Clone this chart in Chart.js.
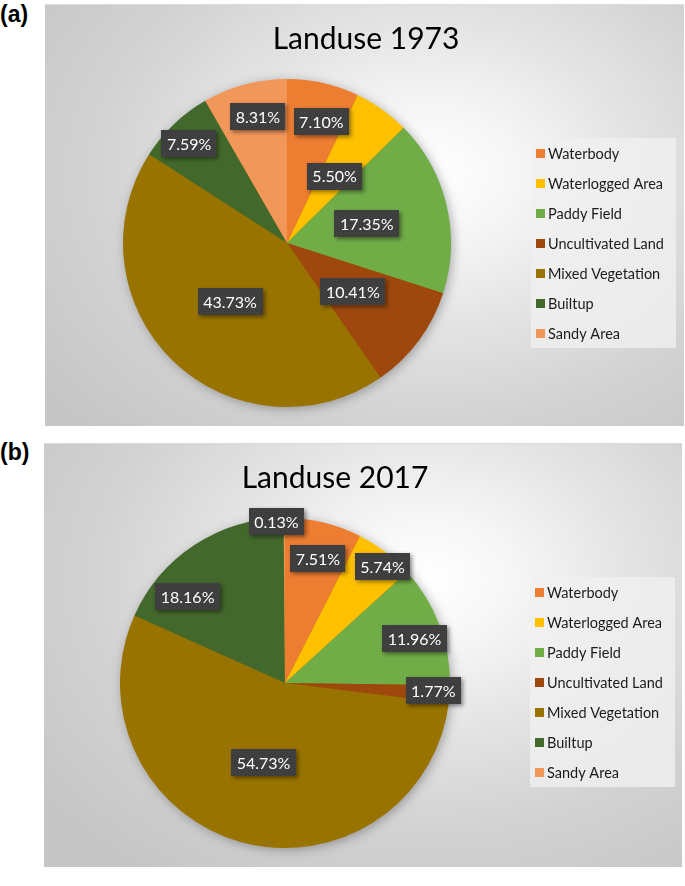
<!DOCTYPE html>
<html>
<head>
<meta charset="utf-8">
<script src="https://cdn.jsdelivr.net/npm/chart.js@4.4.1/dist/chart.umd.min.js"></script>
<style>
  body{margin:0;background:#fff;width:685px;height:886px;position:relative;overflow:hidden;}
  .tag{position:absolute;left:0;font:bold 23px "Liberation Sans",Arial,sans-serif;color:#000;}
  .panel{position:absolute;border-top:1px solid #dcdcdc;box-sizing:border-box;}
  #panelA{left:45px;top:4px;width:639px;height:422px;
    background:radial-gradient(ellipse 75% 85% at 60% 40%,#ffffff 0%,#f6f6f6 18%,#e2e2e2 45%,#d2d2d2 70%,#c6c6c6 100%);}
  #panelB{left:44px;top:443px;width:638px;height:424px;
    background:radial-gradient(ellipse 75% 85% at 60% 32%,#ffffff 0%,#f6f6f6 18%,#e2e2e2 45%,#d2d2d2 70%,#c6c6c6 100%);}
  canvas{display:block;}
</style>
</head>
<body>
<div class="tag" style="top:1px">(a)</div>
<div class="tag" style="top:439px">(b)</div>
<div class="panel" id="panelA"><canvas id="chartA"></canvas></div>
<div class="panel" id="panelB"><canvas id="chartB"></canvas></div>
<script>
// ================== DATA ==================
const categories = ["Waterbody","Waterlogged Area","Paddy Field","Uncultivated Land","Mixed Vegetation","Builtup","Sandy Area"];
const values1973 = [7.10, 5.50, 17.35, 10.41, 43.73, 7.59, 8.31];
const values2017 = [7.51, 5.74, 11.96, 1.77, 54.73, 18.16, 0.13];
const sliceColors = ["#ED7D31","#FFC000","#70AD47","#9E480E","#997300","#43682B","#F1975A"];

// label placement (fraction of radius, turn in degrees from slice middle)
const labelRadius1973 = [0.77, 0.50, 0.50, 0.50, 0.50, 0.85, 0.79];
const labelTurn1973   = [3, 0, 0, 0, 0, -1, 2];
const labelRadius2017 = [0.78, 0.92, 0.83, 0.90, 0.50, 0.79, 0.98];
const labelTurn2017   = [1.3, 2.6, 1.8, -0.9, -0.6, -15.2, -2.8];

const FONT = "Lato, 'Open Sans', sans-serif";

// ================== HELPERS ==================
function makeDots(ctx){
  const c = document.createElement('canvas');
  c.width = 4; c.height = 4;
  const g = c.getContext('2d');
  g.fillStyle = '#3d3d3d';
  g.fillRect(0,0,4,4);
  g.fillStyle = '#4b4b4b';
  g.fillRect(1,1,1,1);
  g.fillRect(3,3,1,1);
  return ctx.createPattern(c,'repeat');
}

// shadow behind the whole pie
const pieShadow = {
  id:'pieShadow',
  beforeDatasetsDraw(chart){
    const arc = chart.getDatasetMeta(0).data[0];
    if(!arc) return;
    const {x,y,outerRadius} = arc.getProps(['x','y','outerRadius'],true);
    const ctx = chart.ctx;
    ctx.save();
    ctx.shadowColor = 'rgba(0,0,0,0.35)';
    ctx.shadowBlur = 12;
    ctx.shadowOffsetX = 2;
    ctx.shadowOffsetY = 2;
    ctx.fillStyle = '#997300';
    ctx.beginPath();
    ctx.arc(x,y,outerRadius-1,0,Math.PI*2);
    ctx.fill();
    ctx.restore();
  }
};

// dark value boxes, title, legend
const decorations = {
  id:'decorations',
  afterDatasetsDraw(chart, args, opts){
    const ctx = chart.ctx;
    const meta = chart.getDatasetMeta(0);
    const vals = chart.data.datasets[0].data;
    const dots = makeDots(ctx);
    ctx.save();
    ctx.font = '16px ' + FONT;
    meta.data.forEach((arc,i)=>{
      const {x,y,startAngle,endAngle,outerRadius} = arc.getProps(['x','y','startAngle','endAngle','outerRadius'],true);
      const mid = (startAngle+endAngle)/2 + opts.turn[i]*Math.PI/180;
      const r = outerRadius*opts.radius[i];
      const cx = x + Math.cos(mid)*r;
      const cy = y + Math.sin(mid)*r;
      const txt = vals[i].toFixed(2) + '%';
      const w = ctx.measureText(txt).width + 11;
      const h = 27;
      ctx.save();
      ctx.shadowColor = 'rgba(0,0,0,0.45)';
      ctx.shadowBlur = 4;
      ctx.shadowOffsetX = 2;
      ctx.shadowOffsetY = 2;
      ctx.fillStyle = dots;
      ctx.fillRect(Math.round(cx-w/2), Math.round(cy-h/2), Math.round(w), h);
      ctx.restore();
      ctx.fillStyle = '#ffffff';
      ctx.textAlign = 'center';
      ctx.textBaseline = 'middle';
      ctx.fillText(txt, cx, cy+1);
    });
    ctx.restore();
  },
  afterDraw(chart, args, opts){
    const ctx = chart.ctx;
    ctx.save();
    // title
    ctx.fillStyle = '#000';
    ctx.font = '30px ' + FONT;
    ctx.textAlign = 'center';
    ctx.textBaseline = 'middle';
    ctx.fillText(opts.title, opts.titleX, 34);
    // legend box
    ctx.fillStyle = 'rgba(240,240,240,0.8)';
    ctx.fillRect(486,133,145,210);
    ctx.font = '14.5px ' + FONT;
    ctx.textAlign = 'left';
    chart.data.labels.forEach((lab,i)=>{
      const yy = 148 + i*30;
      ctx.fillStyle = chart.data.datasets[0].backgroundColor[i];
      ctx.fillRect(491, yy-4, 9, 9);
      ctx.fillStyle = '#1a1a1a';
      ctx.fillText(lab, 503, yy+1);
    });
    ctx.restore();
  }
};

// ================== CHARTS ==================
function drawPie(canvasId, values, title, titleX, radius, turn, pad){
  const el = document.getElementById(canvasId);
  return new Chart(el,{
    type:'pie',
    data:{
      labels:categories,
      datasets:[{data:values, backgroundColor:sliceColors, borderWidth:0, hoverOffset:0}]
    },
    options:{
      responsive:false,
      animation:false,
      events:[],
      layout:{padding:pad},
      plugins:{
        legend:{display:false},
        tooltip:{enabled:false},
        decorations:{title, titleX, radius, turn}
      }
    },
    plugins:[pieShadow, decorations]
  });
}

const cA = document.getElementById('chartA');
cA.width = 639; cA.height = 421;
const cB = document.getElementById('chartB');
cB.width = 638; cB.height = 423;

drawPie('chartA', values1973, 'Landuse 1973', 321, labelRadius1973, labelTurn1973,
  {left:78, right:233, top:74, bottom:19});
drawPie('chartB', values2017, 'Landuse 2017', 291, labelRadius2017, labelTurn2017,
  {left:76, right:232, top:74, bottom:19});
</script>
</body>
</html>
